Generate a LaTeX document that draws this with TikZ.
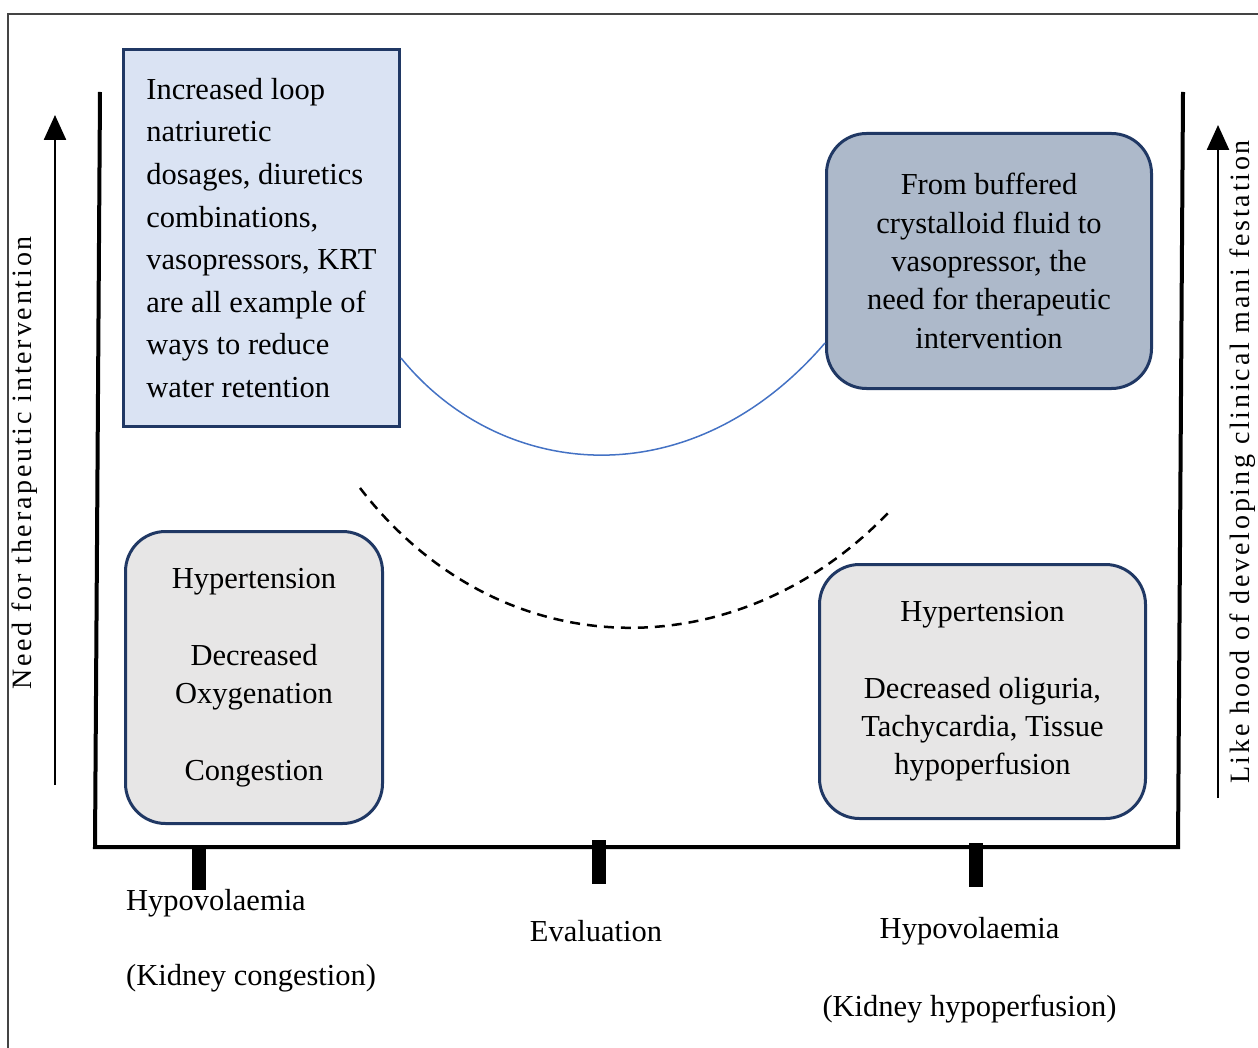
\documentclass[tikz,border=0pt]{standalone}
\usepackage{fontspec}
\setmainfont{Liberation Serif}
\newfontfamily\axisfont[LetterSpace=10]{Liberation Serif}
\usepackage{tikz}
\usepackage{xcolor}
\usetikzlibrary{arrows.meta,positioning}
\definecolor{navyEdge}{HTML}{203864}
\definecolor{paleBlue}{HTML}{DAE3F3}
\definecolor{slateBlue}{HTML}{ADB9CA}
\definecolor{paleGray}{HTML}{E7E6E6}
\definecolor{curveBlue}{HTML}{4472C4}
\definecolor{frameGray}{HTML}{444444}
\tikzset{
	%Define standard arrow tip
	>={Triangle[length=25pt,width=22pt]},
	%Define style for boxes
	box/.style={
		rectangle,
		draw=navyEdge, line width=3pt,
		inner sep=0pt,
		font=\fontsize{30.5}{42.6}\selectfont},
	roundBox/.style={
		box,
		rounded corners=40pt,
		align=center,
		font=\fontsize{30.5}{38.3}\selectfont},
	% Define axis and label styles
	axisStyle/.style={line width=4pt},
	tickStyle/.style={line width=14pt},
	labelStyle/.style={font=\fontsize{30.5}{36}\selectfont, inner sep=0pt},
	sideLabel/.style={font=\axisfont\fontsize{28}{34}\selectfont, rotate=90, inner sep=0pt},
	% Define arrow style
	edgeStyle/.style={
		->,
		line width=2.5pt}
}

\begin{document}
\begin{tikzpicture}[x=1pt,y=-1pt]
	\useasboundingbox (0,0) rectangle (1258,1048);
	
	% frame
	\draw[frameGray, line width=1.5pt] (8,1048) -- (8,14) -- (1258,14);
	
	% axes
	\coordinate (topL) at (100,92);
	\coordinate (botL) at (95,847);
	\coordinate (botR) at (1178,847);
	\coordinate (topR) at (1183,92);
	\draw[axisStyle] (topL) -- (botL) -- (botR) -- (topR);
	\draw[tickStyle] (199,847) -- (199,890);
	\draw[tickStyle] (599,840) -- (599,884);
	\draw[tickStyle] (976,843) -- (976,887);
	
	% side arrows
	\coordinate (needFrom) at (55,785);
	\coordinate (needTo) at (55,115);
	\draw[edgeStyle] (needFrom) -- (needTo);
	\node[sideLabel] (needLabel) at (25,463) {Need for therapeutic intervention};
	\coordinate (likeFrom) at (1218,798);
	\coordinate (likeTo) at (1218,125);
	\draw[edgeStyle] (likeFrom) -- (likeTo);
	\node[sideLabel] (likeLabel) at (1243,462) {Like hood of developing clinical mani festation};
	
	%nodes
	\node[box, fill=paleBlue, minimum width=276pt, minimum height=377pt, align=left] (loopBox) at (261.5,238) {
		Increased loop\\
		natriuretic\\
		dosages, diuretics\\
		combinations,\\
		vasopressors, KRT\\
		are all example of\\
		ways to reduce\\
		water retention};
	
	\node[roundBox, fill=slateBlue, minimum width=325pt, minimum height=255pt] (fluidBox) at (989,261) {
		From buffered\\
		crystalloid fluid to\\
		vasopressor, the\\
		need for therapeutic\\
		intervention};
	
	\node[roundBox, fill=paleGray, minimum width=257pt, minimum height=292pt] (congBox) at (254,677.5) {
		Hypertension\\[38.3pt]
		Decreased\\
		Oxygenation\\[38.3pt]
		Congestion};
	
	\node[roundBox, fill=paleGray, minimum width=326pt, minimum height=254pt] (perfBox) at (982.5,691.5) {
		Hypertension\\[38.3pt]
		Decreased oliguria,\\
		Tachycardia, Tissue\\
		hypoperfusion};
	
	% curves
	\draw[curveBlue, line width=1.5pt] ([yshift=-120pt]loopBox.east) .. controls (500,480) and (690,500) .. ([yshift=-82pt]fluidBox.west);
	\coordinate (dashL) at (360,488);
	\coordinate (dashR) at (888,513);
	\draw[line width=2.5pt, dash pattern=on 10pt off 7pt] (dashL) .. controls (500,670) and (737,670) .. (dashR);
	
	% axis labels
	\node[labelStyle, anchor=west] (hypoL) at (126,903) {Hypovolaemia};
	\node[labelStyle, anchor=west] (congL) at (126,978) {(Kidney congestion)};
	\node[labelStyle] (evalL) at (596,931) {Evaluation};
	\node[labelStyle] (hypoR) at (969.5,931) {Hypovolaemia};
	\node[labelStyle] (perfR) at (969.5,1009) {(Kidney hypoperfusion)};
	
\end{tikzpicture}
\end{document}
